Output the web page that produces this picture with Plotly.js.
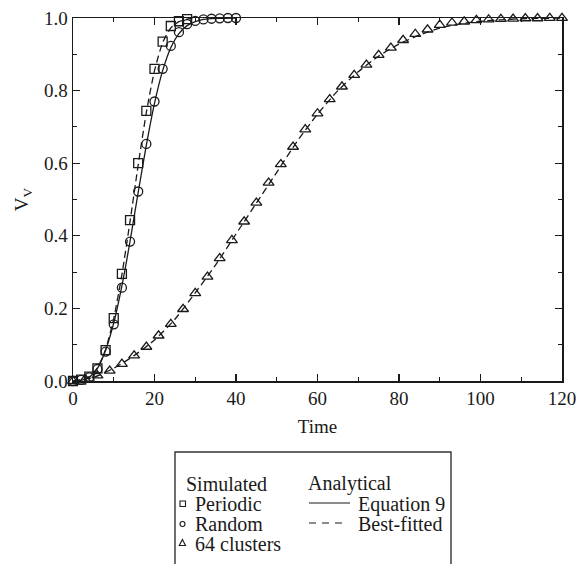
<!DOCTYPE html>
<html><head><meta charset="utf-8">
<script src="https://cdn.plot.ly/plotly-3.0.1.min.js"></script>
<style>html,body{margin:0;padding:0;background:#fff}</style>
</head><body><div id="chart" style="width:577px;height:564px"></div>
<script>
// ---- data ----
const periodicTime = [0,2,4,6,8,10,12,14,16,18,20,22,24,26,28];
const periodicVv   = [0,0.004,0.012,0.035,0.085,0.173,0.295,0.443,0.600,0.744,0.860,0.935,0.978,0.991,0.997];

const randomTime = [0,2,4,6,8,10,12,14,16,18,20,22,24,26,28,30,32,34,36,38,40];
const randomVv   = [0,0.003,0.010,0.033,0.081,0.156,0.257,0.384,0.522,0.653,0.770,0.860,0.923,0.961,0.983,0.992,0.996,0.998,0.999,1.0,1.0];

const clusterTime = [0,3,6,9,12,15,18,21,24,27,30,33,36,39,42,45,48,51,54,57,60,63,66,69,72,75,78,81,84,87,90,93,96,99,102,105,108,111,114,117,120];
const clusterVv   = [0,0.005,0.015,0.028,0.047,0.070,0.094,0.125,0.157,0.198,0.242,0.287,0.338,0.388,0.439,0.491,0.546,0.597,0.645,0.693,0.737,0.776,0.811,0.843,0.871,0.898,0.918,0.939,0.956,0.968,0.981,0.987,0.990,0.994,0.996,0.997,0.998,0.999,0.999,1.0,1.0];

// analytical curves
const eq9Time = [0,2,4,6,8,10,12,14,16,18,20,22,24,26,28,30,32,35,40];
const eq9Vv   = [0,0.002,0.010,0.035,0.085,0.160,0.262,0.385,0.520,0.650,0.765,0.855,0.918,0.957,0.979,0.990,0.996,0.999,1.0];

const fitPeriodicTime = [0,2,4,6,8,10,12,14,16,18,20,22,24,26,28,30];
const fitPeriodicVv   = [0,0.003,0.012,0.036,0.087,0.172,0.293,0.440,0.595,0.740,0.855,0.932,0.973,0.990,0.997,1.0];

const fitClusterTime = [0,5,10,15,20,25,30,35,40,45,50,55,60,65,70,75,80,85,90,95,100,105,110,115,120];
const fitClusterVv   = [0,0.010,0.035,0.070,0.113,0.170,0.243,0.320,0.405,0.490,0.575,0.660,0.735,0.800,0.852,0.895,0.928,0.953,0.972,0.984,0.991,0.995,0.998,0.999,1.0];

const xTickVals = [0,20,40,60,80,100,120];
const yTickVals = [0,0.2,0.4,0.6,0.8,1.0];

// legend texts
const simHeader = 'Simulated';
const anaHeader = 'Analytical';
const simLabels = ['Periodic','Random','64 clusters'];
const anaLabels = ['Equation 9','Best-fitted'];

// ---- styling ----
const INK = '#1a1a1a';
const FONT = '"Liberation Serif", "Times New Roman", Times, serif';
const W = 577, H = 564, ML = 73, MR = 15, MT = 18, MB = 183;
const PW = W - ML - MR, PH = H - MT - MB;
const px = v => (v - ML) / PW;           // pixel x -> paper
const py = v => (H - MB - v) / PH;       // pixel y -> paper

const mk = (sym, size) => ({symbol: sym, size: size, color: INK, line: {color: INK, width: 1.3}});

const traces = [
  {x: eq9Time, y: eq9Vv, mode: 'lines', line: {color: INK, width: 1.3, shape: 'spline', smoothing: 0.6}, showlegend: false, cliponaxis: false},
  {x: fitPeriodicTime, y: fitPeriodicVv, mode: 'lines', line: {color: INK, width: 1.3, dash: '7px,4px', shape: 'spline', smoothing: 0.6}, showlegend: false, cliponaxis: false},
  {x: fitClusterTime, y: fitClusterVv, mode: 'lines', line: {color: INK, width: 1.3, dash: '7px,4px', shape: 'spline', smoothing: 0.6}, showlegend: false, cliponaxis: false},
  {x: periodicTime, y: periodicVv, mode: 'markers', name: simLabels[0], marker: mk('square-open', 9), showlegend: false, cliponaxis: false},
  {x: randomTime, y: randomVv, mode: 'markers', name: simLabels[1], marker: mk('circle-open', 9), showlegend: false, cliponaxis: false},
  {x: clusterTime, y: clusterVv, mode: 'markers', name: simLabels[2], marker: mk('triangle-up-open', 9.5), showlegend: false, cliponaxis: false}
];

// legend built from annotations + shapes (box below the plot)
const ann = [];
const shapes = [];
const addText = (t, x, y) => ann.push({text: t, xref: 'paper', yref: 'paper', x: px(x), y: py(y), xanchor: 'left', yanchor: 'middle', showarrow: false, borderpad: 0, borderwidth: 0, font: {family: FONT, size: 20, color: INK}});
addText(simHeader, 186, 484);
addText(anaHeader, 308, 484);
simLabels.forEach((t, i) => addText(t, 194.5, 504 + 20 * i));
anaLabels.forEach((t, i) => addText(t, 358, 504 + 20 * i));

const sl = {color: INK, width: 1.1};
shapes.push({type: 'rect', xref: 'paper', yref: 'paper', x0: px(175), x1: px(451), y0: py(452), y1: py(600), line: {color: '#333', width: 1.4}});
shapes.push({type: 'rect', xref: 'paper', yref: 'paper', x0: px(180), x1: px(185.5), y0: py(506.5), y1: py(501), line: sl});
shapes.push({type: 'circle', xref: 'paper', yref: 'paper', x0: px(180), x1: px(185), y0: py(526.5), y1: py(521.5), line: sl});
shapes.push({type: 'path', xref: 'paper', yref: 'paper', path: `M${px(179.3)},${py(545.5)} L${px(185.5)},${py(545.5)} L${px(182.4)},${py(539.5)} Z`, line: sl});
shapes.push({type: 'line', xref: 'paper', yref: 'paper', x0: px(309), x1: px(350), y0: py(503), y1: py(503), line: {color: INK, width: 1.2}});
shapes.push({type: 'line', xref: 'paper', yref: 'paper', x0: px(309), x1: px(343), y0: py(523), y1: py(523), line: {color: INK, width: 1.2, dash: '7px,6px'}});

const axisCommon = {
  showline: true, linecolor: INK, linewidth: 1.5, mirror: 'ticks',
  ticks: 'inside', ticklen: 7, tickwidth: 1.2, tickcolor: INK,
  showgrid: false, zeroline: false,
  tickfont: {family: FONT, size: 19, color: INK}
};

const layout = {
  width: W, height: H,
  margin: {l: ML, r: MR, t: MT, b: MB, pad: 0},
  paper_bgcolor: '#fff', plot_bgcolor: '#fff',
  font: {family: FONT, color: INK},
  showlegend: false,
  xaxis: Object.assign({}, axisCommon, {
    range: [0, 120], tickmode: 'array', tickvals: xTickVals,
    minor: {dtick: 10, ticks: 'inside', ticklen: 4, tickwidth: 1.1, tickcolor: INK, showgrid: false},
    title: {text: 'Time', font: {family: FONT, size: 19, color: INK}, standoff: 11}
  }),
  yaxis: Object.assign({}, axisCommon, {
    range: [0, 1], tickmode: 'array', tickvals: yTickVals, tickformat: '.1f',
    minor: {dtick: 0.1, ticks: 'inside', ticklen: 4, tickwidth: 1.1, tickcolor: INK, showgrid: false},
    title: {text: 'V<sub>V</sub>', font: {family: FONT, size: 19, color: INK}, standoff: 10}
  }),
  annotations: ann,
  shapes: shapes
};

Plotly.newPlot('chart', traces, layout, {displayModeBar: false, staticPlot: true});
</script>
</body></html>
